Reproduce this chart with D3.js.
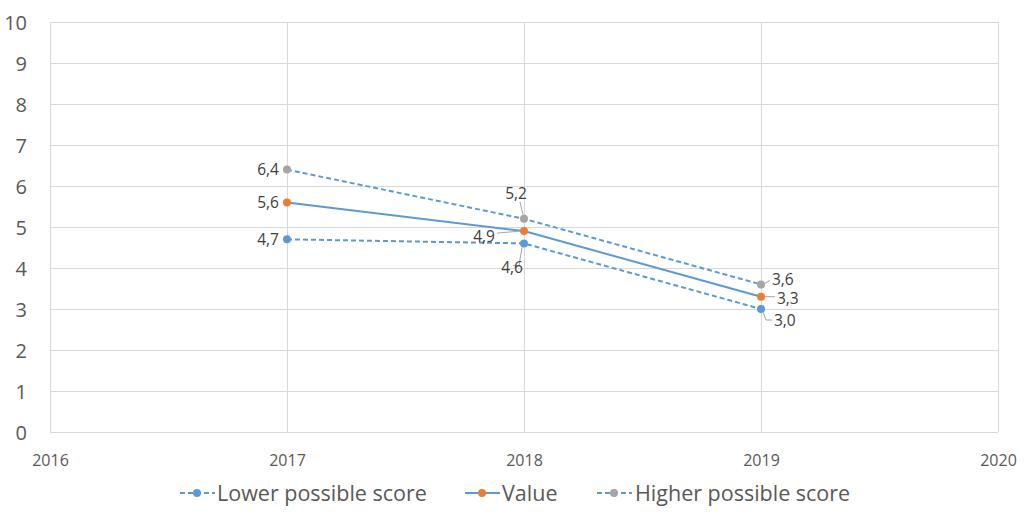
<!DOCTYPE html>
<html>
<head>
<meta charset="utf-8">
<script src="https://cdn.jsdelivr.net/npm/d3@7"></script>
<style>
  html, body { margin: 0; padding: 0; background: #fff; }
  svg { display: block; font-family: "Open Sans", "Noto Sans", sans-serif; }
</style>
</head>
<body>
<svg id="chart" width="1024" height="512"></svg>
<script>
// ---- data ----
const years = [2017, 2018, 2019];
const lowerScore = [4.7, 4.6, 3.0];
const valueScore = [5.6, 4.9, 3.3];
const higherScore = [6.4, 5.2, 3.6];
const xTicks = [2016, 2017, 2018, 2019, 2020];
const yTicks = [0, 1, 2, 3, 4, 5, 6, 7, 8, 9, 10];
const seriesNames = ["Lower possible score", "Value", "Higher possible score"];

// ---- styling / placement (not data) ----
const lineColor = "#5b9bd5";
const markerColors = ["#5b9bd5", "#ed7d31", "#a5a5a5"];
const dashes = ["5,3", null, "5,3"];
// label placement per series per point: [dx, dy, anchor, leader points relative to marker]
const labelPlacement = [
  [[-8, 0, "end", null], [-12, 24, "middle", [[-11, 22], [-5, 22], [-2, 4]]], [13, 12, "start", [[2, 3], [5, 11], [11, 11]]]],
  [[-8, 0, "end", null], [-29, 5, "end", [[-27, 2], [-4, 0]]], [16, 2, "start", [[4, 0], [14, 0]]]],
  [[-8, 0, "end", null], [-8, -25, "middle", [[-4, -17], [-1, -4]]], [11, -5, "start", [[2, 0], [9, -4]]]]
];

const svg = d3.select("#chart");
const x = d3.scaleLinear().domain([2016, 2020]).range([50, 998]);
const y = d3.scaleLinear().domain([0, 10]).range([432, 22]);

// gridlines
svg.append("g").selectAll("line").data(yTicks).join("line")
  .attr("x1", x(2016)).attr("x2", x(2020))
  .attr("y1", d => Math.round(y(d)) + 0.5).attr("y2", d => Math.round(y(d)) + 0.5)
  .attr("stroke", "#d9d9d9").attr("stroke-width", 1);
svg.append("g").selectAll("line").data(xTicks).join("line")
  .attr("x1", d => Math.round(x(d)) + 0.5).attr("x2", d => Math.round(x(d)) + 0.5)
  .attr("y1", y(0)).attr("y2", y(10))
  .attr("stroke", "#d9d9d9").attr("stroke-width", 1);

// y axis labels
const yAxis = d3.axisLeft(y).tickValues(yTicks).tickSize(0).tickPadding(0).tickFormat(d3.format("d"));
const gy = svg.append("g").attr("transform", "translate(27,0)").call(yAxis);
gy.select(".domain").remove();
gy.selectAll("text").attr("fill", "#595959").style("font-size", "20px")
  .style("font-family", "'Open Sans', sans-serif").attr("dy", "0.35em");

// x axis labels
const xAxis = d3.axisBottom(x).tickValues(xTicks).tickSize(0).tickPadding(0).tickFormat(d3.format("d"));
const gx = svg.append("g").attr("transform", "translate(0,452)").call(xAxis);
gx.select(".domain").remove();
gx.selectAll("text").attr("fill", "#595959").style("font-size", "16px")
  .style("font-family", "'Open Sans', sans-serif").attr("dy", "0.35em").attr("y", 8);

const allSeries = [lowerScore, valueScore, higherScore];
const line = d3.line().x(d => x(d[0])).y(d => y(d[1]));

allSeries.forEach((vals, i) => {
  const pts = years.map((yr, j) => [yr, vals[j]]);
  svg.append("path").datum(pts).attr("d", line)
    .attr("fill", "none").attr("stroke", lineColor).attr("stroke-width", 2)
    .attr("stroke-dasharray", dashes[i]);
});

allSeries.forEach((vals, i) => {
  const pts = years.map((yr, j) => [yr, vals[j]]);
  svg.append("g").selectAll("circle").data(pts).join("circle")
    .attr("cx", d => x(d[0])).attr("cy", d => y(d[1])).attr("r", 4)
    .attr("fill", markerColors[i]);
});

// data labels
const fmt = v => d3.format(".1f")(v).replace(".", ",");
allSeries.forEach((vals, i) => {
  years.forEach((yr, j) => {
    const px = x(yr), py = y(vals[j]);
    const [dx, dy, anchor, leader] = labelPlacement[i][j];
    if (leader) {
      svg.append("polyline")
        .attr("points", leader.map(p => [px + p[0], py + p[1]].join(",")).join(" "))
        .attr("fill", "none").attr("stroke", "#a6a6a6").attr("stroke-width", 1);
    }
    svg.append("text").attr("x", px + dx).attr("y", py + dy)
      .attr("text-anchor", anchor).attr("dy", "0.35em")
      .attr("fill", "#404040").style("font-size", "15.5px")
      .text(fmt(vals[j]));
  });
});

// legend
const legendItems = [
  {lx: 180, tx: 217},
  {lx: 465, tx: 502},
  {lx: 597, tx: 635}
];
const ly = 493;
legendItems.forEach((it, i) => {
  const g = svg.append("g");
  g.append("line").attr("x1", it.lx).attr("x2", it.lx + 35).attr("y1", ly).attr("y2", ly)
    .attr("stroke", lineColor).attr("stroke-width", 2).attr("stroke-dasharray", dashes[i]);
  g.append("circle").attr("cx", it.lx + 17).attr("cy", ly).attr("r", 4).attr("fill", markerColors[i]);
  g.append("text").attr("x", it.tx).attr("y", ly).attr("dy", "0.35em")
    .attr("fill", "#595959").style("font-size", "21.5px").text(seriesNames[i]);
});
</script>
</body>
</html>
